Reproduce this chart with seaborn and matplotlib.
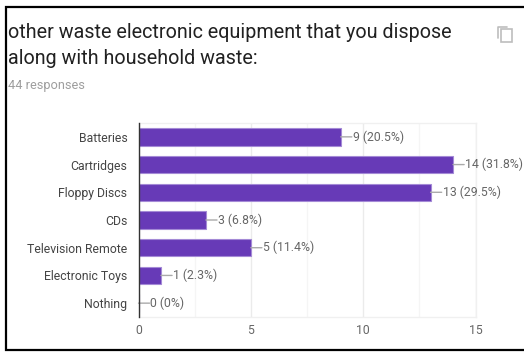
import matplotlib
matplotlib.use("Agg")
import matplotlib.pyplot as plt
from matplotlib.patches import Rectangle
import pandas as pd
import seaborn as sns

categories = ["Batteries", "Cartridges", "Floppy Discs", "CDs",
              "Television Remote", "Electronic Toys", "Nothing"]
counts = [9, 14, 13, 3, 5, 1, 0]
percents = ["20.5%", "31.8%", "29.5%", "6.8%", "11.4%", "2.3%", "0%"]
x_ticks = [0, 5, 10, 15]
minor_ticks = [2.5, 7.5, 12.5]

W, H = 524, 352
sns.set_theme(style="white")
plt.rcParams["font.family"] = ["Roboto", "DejaVu Sans"]

df = pd.DataFrame({"item": categories, "count": counts})

fig = plt.figure(figsize=(W / 100, H / 100), dpi=100, facecolor="white")
ax = fig.add_axes([138.5 / W, 1 - 317 / H, 337 / W, 194 / H])

sns.barplot(data=df, y="item", x="count", ax=ax, color="#673ab7", saturation=1,
            width=0.63, edgecolor="#a48ad6", linewidth=0.8, zorder=3)

ax.set_xlim(0, 15)
ax.set_ylim(6.5, -0.5)
ax.set_xlabel("")
ax.set_ylabel("")

# Light vertical grid with fainter midlines
ax.set_xticks(x_ticks)
ax.set_xticks(minor_ticks, minor=True)
ax.grid(axis="x", which="major", color="#ebebeb", linewidth=1, zorder=0)
ax.grid(axis="x", which="minor", color="#f5f5f5", linewidth=1, zorder=0)
ax.set_axisbelow(True)
ax.tick_params(axis="x", which="both", length=0, pad=5, labelsize=8.8, labelcolor="#666666")
ax.tick_params(axis="y", length=0, pad=8, labelsize=8.8, labelcolor="#444444")

ax.spines["left"].set_color("#333333")
ax.spines["left"].set_linewidth(1)
ax.spines["left"].set_zorder(5)
for name in ("bottom", "top", "right"):
    ax.spines[name].set_color("#f0f0f0")
    ax.spines[name].set_linewidth(1)

# Leader line and value label beside each bar
for i, (c, p) in enumerate(zip(counts, percents)):
    ax.annotate("", xy=(c, i), xytext=(8, 0), textcoords="offset points",
                arrowprops=dict(arrowstyle="-", color="#aaaaaa", lw=1, shrinkA=0, shrinkB=0),
                zorder=4)
    ax.annotate(f"{c} ({p})", xy=(c, i), xytext=(8.6, 0), textcoords="offset points",
                va="center", ha="left", fontsize=8.8, color="#666666", zorder=4)

# Heading block
fig.text(8 / W, 1 - 32.5 / H, "other waste electronic equipment that you dispose",
         fontsize=14.2, color="#212121", va="center", ha="left")
fig.text(8 / W, 1 - 58 / H, "along with household waste:",
         fontsize=14.2, color="#212121", va="center", ha="left")
fig.text(8 / W, 1 - 85 / H, "44 responses",
         fontsize=9.2, color="#9e9e9e", va="center", ha="left")

# Copy icon: two offset outlined squares
fig.add_artist(Rectangle((501 / W, 1 - 42 / H), 11 / W, 13 / H, transform=fig.transFigure,
                         facecolor="white", edgecolor="#bdbdbd", linewidth=1.2, zorder=3))
fig.add_artist(plt.Line2D([497.5 / W, 497.5 / W, 507 / W], [1 - 38 / H, 1 - 26.5 / H, 1 - 26.5 / H],
                          color="#bdbdbd", linewidth=1.2))

# Black rules along the top, left and bottom edges of the page
fig.add_artist(plt.Line2D([1, 5.5 / W, 5.5 / W, 1],
                          [1 - 7 / H, 1 - 7 / H, 1 - 350 / H, 1 - 350 / H],
                          color="black", linewidth=1.6, solid_joinstyle="miter"))

fig.savefig("out.png", dpi=100)
